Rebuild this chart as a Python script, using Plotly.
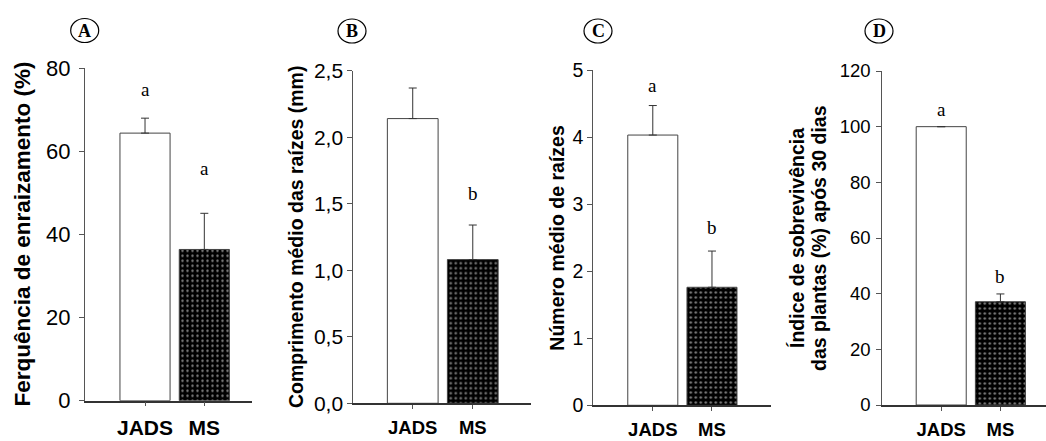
import plotly.graph_objects as go

W, H = 1046, 441

categories = ["JADS", "MS"]

# Panel A - Ferquência de enraizamento (%)
freq_vals = [64.4, 36.4]
freq_err = [3.6, 8.7]
freq_letters = ["a", "a"]
freq_letter_y = [74.8, 55.8]

# Panel B - Comprimento médio das raízes (mm)
len_vals = [2.14, 1.08]
len_err = [0.23, 0.26]
len_letters = ["a", "b"]
len_letter_y = [2.54, 1.58]

# Panel C - Número médio de raízes
num_vals = [4.03, 1.76]
num_err = [0.44, 0.54]
num_letters = ["a", "b"]
num_letter_y = [4.77, 2.65]

# Panel D - Índice de sobrevivência (%)
surv_vals = [100, 37.1]
surv_err = [None, 2.8]
surv_letters = ["a", "b"]
surv_letter_y = [106.3, 46.1]

panel_labels = ["A", "B", "C", "D"]
y_titles = [
    "Ferquência de enraizamento (%)",
    "Comprimento médio das raízes (mm)",
    "Número médio de raízes",
    ["Índice de sobrevivência", "das plantas (%) após 30 dias"],
]
y_ticks = [
    [0, 20, 40, 60, 80],
    [0, 0.5, 1.0, 1.5, 2.0, 2.5],
    [0, 1, 2, 3, 4, 5],
    [0, 20, 40, 60, 80, 100, 120],
]

# ---------- layout helpers (pixel geometry) ----------
def fx(px):
    return px / W

def fy(py):
    return (H - py) / H

panels = [
    dict(vals=freq_vals, err=freq_err, letters=freq_letters, ly=freq_letter_y,
         xpx=(85, 252), ypx=(400.7, 68.3), yr=(0, 80), xr=(-1.012, 1.804),
         tickfs=22, titlefs=22.5, xtickfs=21, title_x=22, circ=(84.7, 30.5),
         fmt=None, ystand=4),
    dict(vals=len_vals, err=len_err, letters=len_letters, ly=len_letter_y,
         xpx=(353.3, 531), ypx=(403.3, 70.7), yr=(0, 2.5), xr=(-0.99, 1.97),
         tickfs=21, titlefs=19.5, xtickfs=18.5, title_x=296, circ=(352, 31),
         fmt=".1f", ystand=0),
    dict(vals=num_vals, err=num_err, letters=num_letters, ly=num_letter_y,
         xpx=(593.3, 771), ypx=(405.3, 70), yr=(0, 5), xr=(-1.005, 1.997),
         tickfs=19.5, titlefs=19.5, xtickfs=18.5, title_x=557, circ=(598, 31),
         fmt=None, ystand=0),
    dict(vals=surv_vals, err=surv_err, letters=surv_letters, ly=surv_letter_y,
         xpx=(882.3, 1046), ypx=(405, 71), yr=(0, 120), xr=(-0.995, 1.77),
         tickfs=18.5, titlefs=19.5, xtickfs=18.5, title_x=808, circ=(879, 31),
         fmt=None, ystand=2),
]

fig = go.Figure()
annotations = []
shapes = []
layout_axes = {}

for i, p in enumerate(panels):
    n = i + 1
    xa = "x" if n == 1 else f"x{n}"
    ya = "y" if n == 1 else f"y{n}"
    fig.add_trace(go.Bar(
        x=categories, y=p["vals"], width=0.845,
        xaxis=xa, yaxis=ya,
        marker=dict(
            color=["white", "black"],
            line=dict(color="#444444", width=1),
            pattern=dict(shape=["", "."], fgcolor="white", bgcolor="black",
                         size=5, solidity=0.18),
        ),
        error_y=dict(type="data", array=p["err"], arrayminus=[0, 0], symmetric=False,
                     color="#333333", thickness=1, width=4),
        showlegend=False,
    ))
    xkey = "xaxis" if n == 1 else f"xaxis{n}"
    ykey = "yaxis" if n == 1 else f"yaxis{n}"
    layout_axes[xkey] = dict(
        domain=[fx(p["xpx"][0]), fx(p["xpx"][1])], anchor=ya,
        type="category", range=list(p["xr"]), automargin=False,
        showline=True, linecolor="#333333", linewidth=1.5,
        ticks="outside", ticklen=4, tickcolor="#555555", tickwidth=1,
        tickfont=dict(family="Liberation Sans, Arial", size=p["xtickfs"], color="black",
                      weight="bold"),
        ticklabelstandoff=3,
        showgrid=False, zeroline=False, fixedrange=True,
    )
    yax = dict(
        domain=[fy(p["ypx"][0]), fy(p["ypx"][1])], anchor=xa,
        range=list(p["yr"]), tickvals=y_ticks[i], automargin=False,
        showline=True, linecolor="#555555", linewidth=1,
        ticks="outside", ticklen=5, tickcolor="#555555", tickwidth=1,
        tickfont=dict(family="Liberation Sans, Arial", size=p["tickfs"], color="black"),
        ticklabelstandoff=p["ystand"],
        showgrid=False, zeroline=False, fixedrange=True,
    )
    if p["fmt"]:
        yax["tickformat"] = p["fmt"]
    layout_axes[ykey] = yax

    # significance letters
    for c, letter, lyv in zip(categories, p["letters"], p["ly"]):
        annotations.append(dict(
            x=c, y=lyv, xref=xa, yref=ya, text=letter, showarrow=False,
            xanchor="center", yanchor="middle",
            font=dict(family="Liberation Serif, Times New Roman", size=19, color="black"),
        ))

    # y-axis title
    ymid = (p["ypx"][0] + p["ypx"][1]) / 2
    title = y_titles[i]
    if isinstance(title, list):
        offs = [-11, 11]
        for t, o in zip(title, offs):
            annotations.append(dict(
                x=fx(p["title_x"] + o), y=fy(ymid), xref="paper", yref="paper",
                text=t, textangle=-90, showarrow=False,
                xanchor="center", yanchor="middle",
                font=dict(family="Liberation Sans, Arial", size=p["titlefs"], color="black",
                          weight="bold"),
            ))
    else:
        annotations.append(dict(
            x=fx(p["title_x"]), y=fy(ymid), xref="paper", yref="paper",
            text=title, textangle=-90, showarrow=False,
            xanchor="center", yanchor="middle",
            font=dict(family="Liberation Sans, Arial", size=p["titlefs"], color="black",
                      weight="bold"),
        ))

    # panel label in a circle
    cx, cy = p["circ"]
    shapes.append(dict(
        type="circle", xref="paper", yref="paper",
        x0=fx(cx - 14), x1=fx(cx + 14), y0=fy(cy + 12), y1=fy(cy - 12),
        line=dict(color="black", width=1.2), fillcolor="rgba(0,0,0,0)",
    ))
    annotations.append(dict(
        x=fx(cx), y=fy(cy), xref="paper", yref="paper", text=panel_labels[i],
        showarrow=False, xanchor="center", yanchor="middle",
        font=dict(family="Liberation Serif, Times New Roman", size=18, color="black",
                  weight="bold"),
    ))

fig.update_layout(
    width=W, height=H,
    margin=dict(l=0, r=0, t=0, b=0, autoexpand=False),
    paper_bgcolor="white", plot_bgcolor="white",
    separators=",.",
    annotations=annotations, shapes=shapes,
    bargap=0.15,
    **layout_axes,
)

fig.write_html("out.html", config=dict(displayModeBar=False),
               post_script="document.body.style.margin='0';")
